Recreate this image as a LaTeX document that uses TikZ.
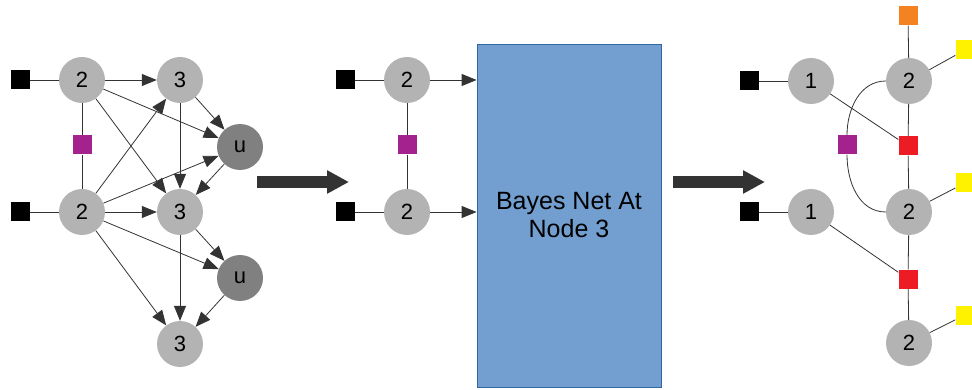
\documentclass[tikz,border=0pt]{standalone}
\usepackage{fontspec}
\setmainfont{Liberation Sans}
\usetikzlibrary{arrows.meta}
\definecolor{vargray}{RGB}{179,179,179}
\definecolor{utilgray}{RGB}{128,128,128}
\definecolor{facpurple}{RGB}{163,34,142}
\definecolor{facred}{RGB}{237,28,36}
\definecolor{facorange}{RGB}{245,130,32}
\definecolor{facyellow}{RGB}{255,242,0}
\definecolor{boxblue}{RGB}{114,159,207}
\definecolor{boxedge}{RGB}{52,101,164}
\definecolor{arrowgray}{RGB}{51,51,51}
\tikzset{
  var/.style={circle, fill=vargray, minimum size=46pt, inner sep=0pt,
    font=\fontsize{22}{22}\selectfont},
  util/.style={var, fill=utilgray},
  fac/.style={rectangle, minimum size=19pt, inner sep=0pt},
  edge/.style={draw=black!80, line width=0.8pt},
  arr/.style={edge, -{Triangle[length=15pt,width=12pt]}},
  bigarrow/.style={draw=arrowgray, line width=12pt,
    -{Triangle[length=22pt,width=22pt]}}
}
\begin{document}
\begin{tikzpicture}[x=1pt,y=-1pt]
\useasboundingbox (0,0) rectangle (972,390);

% ---- left: full network ----
\node[fac, fill=black] (lb1) at (20,80) {};
\node[fac, fill=black] (lb2) at (20,212) {};
\node[var] (l2a) at (82,80) {2};
\node[var] (l2b) at (82,212) {2};
\node[fac, fill=facpurple] (lp) at (82,145) {};
\node[var] (l3a) at (180,80) {3};
\node[var] (l3b) at (180,212) {3};
\node[var] (l3c) at (180,344) {3};
\node[util] (lua) at (240,147) {u};
\node[util] (lub) at (240,278) {u};

\draw[edge] (lb1) -- (l2a);
\draw[edge] (lb2) -- (l2b);
\draw[edge] (l2a) -- (lp) -- (l2b);
\draw[arr] (l2a) -- (l3a);
\draw[arr] (l2a) -- (lua);
\draw[arr] (l2a) -- (l3b);
\draw[arr] (l2b) -- (l3a);
\draw[arr] (l2b) -- (lua);
\draw[arr] (l2b) -- (l3b);
\draw[arr] (l2b) -- (lub);
\draw[arr] (l2b) -- (l3c);
\draw[arr] (l3a) -- (lua);
\draw[arr] (l3a) -- (l3b);
\draw[arr] (lua) -- (l3b);
\draw[arr] (l3b) -- (lub);
\draw[arr] (l3b) -- (l3c);
\draw[arr] (lub) -- (l3c);

% ---- first transition ----
\coordinate (ta) at (257,182);
\coordinate (tb) at (349,182);
\draw[bigarrow] (ta) -- (tb);

% ---- middle: parents feeding the Bayes net ----
\node[fac, fill=black] (mb1) at (345,80) {};
\node[fac, fill=black] (mb2) at (345,212) {};
\node[var] (m2a) at (407,80) {2};
\node[var] (m2b) at (407,212) {2};
\node[fac, fill=facpurple] (mp) at (407,145) {};
\node[draw=boxedge, fill=boxblue, line width=0.8pt, minimum width=184pt,
  minimum height=343pt, align=center, font=\fontsize{25}{28}\selectfont]
  (bn) at (569,215.5) {Bayes Net At\\Node 3};

\draw[edge] (mb1) -- (m2a);
\draw[edge] (mb2) -- (m2b);
\draw[edge] (m2a) -- (mp) -- (m2b);
\draw[arr] (m2a) -- (m2a -| bn.west);
\draw[arr] (m2b) -- (m2b -| bn.west);

% ---- second transition ----
\coordinate (tc) at (673,182);
\coordinate (td) at (765,182);
\draw[bigarrow] (tc) -- (td);

% ---- right: resulting factor graph ----
\node[fac, fill=black] (rb1) at (749,81) {};
\node[fac, fill=black] (rb2) at (749,212) {};
\node[var] (r1a) at (811,81) {1};
\node[var] (r1b) at (811,212) {1};
\node[var] (r2a) at (909,81) {2};
\node[var] (r2b) at (909,212) {2};
\node[var] (r2c) at (909,343) {2};
\node[fac, fill=facorange] (ro) at (908,16) {};
\node[fac, fill=facred] (rr1) at (908,146) {};
\node[fac, fill=facred] (rr2) at (908,279) {};
\node[fac, fill=facpurple] (rp) at (847,145) {};
\node[fac, fill=facyellow] (ry1) at (965,50) {};
\node[fac, fill=facyellow] (ry2) at (965,183) {};
\node[fac, fill=facyellow] (ry3) at (965,315) {};

\draw[edge] (rb1) -- (r1a);
\draw[edge] (rb2) -- (r1b);
\draw[edge] (ro) -- (r2a);
\draw[edge] (r2a) -- (ry1);
\draw[edge] (r2b) -- (ry2);
\draw[edge] (r2c) -- (ry3);
\draw[edge] (r2a) -- (rr1) -- (r2b) -- (rr2) -- (r2c);
\draw[edge] (r1a) -- (rr1);
\draw[edge] (r1b) -- (rr2);
\draw[edge] (r2a.west) to[out=180,in=90] (rp.north);
\draw[edge] (rp.south) to[out=270,in=180] (r2b.west);
\end{tikzpicture}
\end{document}
